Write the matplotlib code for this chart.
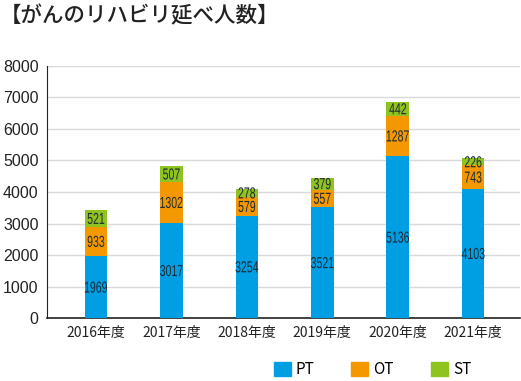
import matplotlib
matplotlib.use("Agg")
import matplotlib.pyplot as plt
from matplotlib.patches import Patch, PathPatch
from matplotlib.textpath import TextPath
from matplotlib.font_manager import FontProperties
from matplotlib.transforms import Affine2D, IdentityTransform
import numpy as np

years = ["2016年度", "2017年度", "2018年度", "2019年度", "2020年度", "2021年度"]
pt = [1969, 3017, 3254, 3521, 5136, 4103]
ot = [933, 1302, 579, 557, 1287, 743]
st = [521, 507, 278, 379, 442, 226]
series_names = ["PT", "OT", "ST"]
colors = ["#009FE3", "#F39800", "#8FC31F"]
yticks = [0, 1000, 2000, 3000, 4000, 5000, 6000, 7000, 8000]

plt.rcParams['font.family'] = ['Noto Sans CJK JP', 'DejaVu Sans']

DPI = 100
fig = plt.figure(figsize=(5.21, 3.81), dpi=DPI)
ax = fig.add_axes([0.090, 0.165, 0.908, 0.662])

x = np.arange(len(years))
w = 0.30
ax.bar(x, pt, w, color=colors[0], zorder=3)
ax.bar(x, ot, w, bottom=pt, color=colors[1], zorder=3)
bottom3 = np.array(pt) + np.array(ot)
ax.bar(x, st, w, bottom=bottom3, color=colors[2], zorder=3)

ax.set_xlim(-0.65, 5.62)
ax.set_ylim(0, 8000)
ax.set_yticks(yticks)
ax.set_yticklabels([str(v) for v in yticks], fontsize=11.5, color='#222222',
                   family=['Liberation Sans', 'DejaVu Sans'])
ax.set_xticks(x)
ax.set_xticklabels(years, fontsize=10, color='#222222')
ax.tick_params(axis='both', length=0, pad=6)
ax.grid(axis='y', color='#d9d9d9', linewidth=1, zorder=0)
for s in ['top', 'right']:
    ax.spines[s].set_visible(False)
ax.spines['left'].set_color('#222222')
ax.spines['bottom'].set_color('#222222')
ax.spines['bottom'].set_linewidth(1.2)

# condensed data labels
fp = FontProperties(family='Liberation Sans', size=11.5)
def cond_label(xd, yd, s):
    tp = TextPath((0, 0), s, prop=fp)
    ext = tp.get_extents()
    cx = (ext.x0 + ext.x1) / 2
    cy = (ext.y0 + ext.y1) / 2
    px, py = ax.transData.transform((xd, yd))
    k = DPI / 72.0
    tr = Affine2D().translate(-cx, -cy).scale(0.66 * k, k).translate(px, py)
    patch = PathPatch(tp, facecolor='#1e2a36', edgecolor='none', zorder=5)
    patch.set_transform(tr)
    patch.set_clip_on(False)
    ax.add_artist(patch)

for i in range(len(years)):
    cond_label(x[i], pt[i] / 2, str(pt[i]))
    cond_label(x[i], pt[i] + ot[i] / 2, str(ot[i]))
    cond_label(x[i], bottom3[i] + st[i] / 2, str(st[i]))

handles = [Patch(color=c, label=n) for c, n in zip(colors, series_names)]
fig.legend(handles=handles, loc='center', bbox_to_anchor=(0.715, 0.03), ncol=3, frameon=False,
           fontsize=11, handlelength=1.1, handleheight=1.1, columnspacing=2.4, handletextpad=0.35)

fig.text(0.0, 0.958, "【がんのリハビリ延べ人数】", fontsize=15.5, fontweight='medium',
         ha='left', va='center', color='#222222')

fig.savefig("out.png", dpi=DPI)
